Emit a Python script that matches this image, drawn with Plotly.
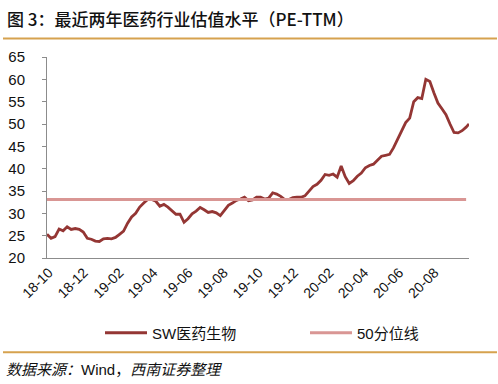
import pandas as pd
import plotly.graph_objects as go

# ---- data ----
dates = list(pd.date_range("2018-09-28", periods=105, freq="7D")) + [pd.Timestamp("2020-09-30")]
sw_pe = [
    25.3, 24.4, 24.8, 26.5, 26.1, 27.0, 26.4, 26.6, 26.4, 25.8,
    24.4, 24.2, 23.8, 23.7, 24.3, 24.4, 24.3, 24.6, 25.3, 26.0,
    27.8, 29.2, 30.0, 31.4, 32.3, 33.1, 33.1, 32.7, 31.6, 32.0,
    31.4, 30.7, 29.8, 29.8, 28.0, 28.8, 29.9, 30.5, 31.3, 30.8,
    30.2, 30.4, 30.1, 29.5, 30.6, 31.8, 32.3, 32.9, 33.2, 33.6,
    32.8, 33.0, 33.6, 33.6, 33.2, 33.4, 34.6, 34.3, 33.8, 33.1,
    33.1, 33.5, 33.6, 33.6, 33.9, 34.9, 36.0, 36.5, 37.4, 38.7,
    38.5, 38.8, 38.1, 40.6, 38.2, 36.7, 37.3, 38.3, 39.0, 40.2,
    40.7, 41.0, 41.9, 42.8, 43.0, 43.2, 44.7, 46.5, 48.6, 50.3,
    51.3, 55.0, 55.9, 55.7, 60.0, 59.5, 57.0, 54.7, 53.4, 52.1,
    50.0, 48.1, 48.0, 48.5, 49.3, 50.0,
]
p50_level = 33.1
p50_dates = dates[:-1]
p50 = [p50_level for _ in p50_dates]

series_names = ["SW医药生物", "50分位线"]
title_text = "图 3：最近两年医药行业估值水平（PE-TTM）"
source_text = "<i>数据来源：</i>Wind，<i>西南证券整理</i>"

MAIN = "#943634"
PINK = "#D99694"
GOLD = "#D6A24E"
AXIS = "#8C8C8C"
TXT = "#111111"

fig = go.Figure()
fig.add_trace(go.Scatter(x=dates, y=sw_pe, mode="lines", name=series_names[0],
                         line=dict(color=MAIN, width=2.8), legend="legend"))
fig.add_trace(go.Scatter(x=p50_dates, y=p50, mode="lines", name=series_names[1],
                         line=dict(color=PINK, width=3), legend="legend2"))

# plot area geometry (pixels)
W, H = 498, 384
L, R, T, B = 47, 29, 57, 126
pw, ph = W - L - R, H - T - B

def px_x(x):
    return (x - L) / pw

def px_y(y):
    return (H - B - y) / ph

leg_font = dict(size=15, family="Liberation Sans, Noto Sans CJK SC", color=TXT)

fig.update_layout(
    width=W, height=H,
    margin=dict(l=L, r=R, t=T, b=B, autoexpand=False),
    paper_bgcolor="white", plot_bgcolor="white",
    font=dict(family="Liberation Sans, Arial, Noto Sans CJK SC", color=TXT),
    showlegend=True,
    legend=dict(orientation="h", x=px_x(100), y=px_y(333), xanchor="left", yanchor="middle",
                font=leg_font, bgcolor="rgba(0,0,0,0)", itemclick=False, itemwidth=42),
    legend2=dict(orientation="h", x=px_x(305), y=px_y(333), xanchor="left", yanchor="middle",
                 font=leg_font, bgcolor="rgba(0,0,0,0)", itemclick=False, itemwidth=42),
    xaxis=dict(
        type="date",
        range=[dates[0], dates[-1]],
        tick0="2018-10-01", dtick="M2", tickformat="%y-%m",
        tickangle=-45, tickfont=dict(size=14, color=TXT),
        showline=True, linecolor=AXIS, linewidth=1,
        ticks="", showgrid=False, zeroline=False, automargin=False,
    ),
    yaxis=dict(
        range=[20, 65], dtick=5, tick0=20,
        tickfont=dict(size=15, color=TXT),
        showline=True, linecolor=AXIS, linewidth=1,
        ticks="outside", ticklen=4, tickcolor=AXIS,
        ticklabelstandoff=14,
        showgrid=False, zeroline=False, automargin=False,
    ),
    shapes=[
        dict(type="line", xref="paper", yref="paper", x0=px_x(3), x1=px_x(497),
             y0=px_y(38.5), y1=px_y(38.5), line=dict(color=GOLD, width=2)),
        dict(type="line", xref="paper", yref="paper", x0=px_x(3), x1=px_x(497),
             y0=px_y(352.3), y1=px_y(352.3), line=dict(color=GOLD, width=2)),
    ],
    annotations=[
        dict(text=title_text, xref="paper", yref="paper", x=px_x(5), y=px_y(18),
             xanchor="left", yanchor="middle", showarrow=False,
             font=dict(size=17, family="Noto Sans CJK SC", color=TXT, weight=500)),
        dict(text=source_text, xref="paper", yref="paper", x=px_x(4), y=px_y(369),
             xanchor="left", yanchor="middle", showarrow=False,
             font=dict(size=15, family="Liberation Sans, Noto Sans CJK SC", color=TXT)),
    ],
)

fig.write_html("out.html", config={"displayModeBar": False},
               post_script="document.body.style.margin='0';document.body.style.overflow='hidden';")
